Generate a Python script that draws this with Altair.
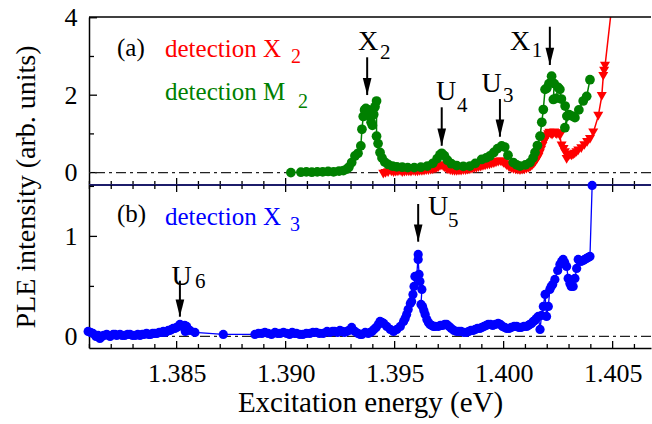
import altair as alt
import pandas as pd

# ---------------- data ----------------
m2_energy = [1.39024, 1.39070, 1.39095, 1.39120, 1.39145, 1.39170, 1.39195, 1.39220, 1.39245, 1.39265,
             1.39280, 1.39290, 1.39303, 1.39318, 1.39332, 1.39345, 1.39350, 1.39356, 1.39362, 1.39368,
             1.39374, 1.39380, 1.39386, 1.39392, 1.39398, 1.39404, 1.39410, 1.39417, 1.39417, 1.39424,
             1.39433, 1.39442, 1.39455, 1.39470, 1.39490, 1.39510, 1.39535, 1.39560, 1.39590, 1.39620,
             1.39650, 1.39675, 1.39695, 1.39708, 1.39716, 1.39728, 1.39742, 1.39760, 1.39785, 1.39815,
             1.39845, 1.39870, 1.39899, 1.39920, 1.39937, 1.39955, 1.39972, 1.39991, 1.40005, 1.40020,
             1.40044, 1.40060, 1.40075, 1.40100, 1.40121, 1.40135, 1.40144, 1.40155, 1.40167, 1.40175,
             1.40182, 1.40190, 1.40198, 1.40208, 1.40220, 1.40232, 1.40228, 1.40240, 1.40250, 1.40258,
             1.40265, 1.40282, 1.40290, 1.40281, 1.40300, 1.40315, 1.40327, 1.40345, 1.40365, 1.40381,
             1.40396]
m2_value = [0.00, 0.01, 0.02, 0.01, 0.02, 0.02, 0.03, 0.02, 0.04, 0.05,
            0.09, 0.14, 0.26, 0.43, 0.50, 0.69, 1.12, 1.45, 1.62, 1.66,
            1.58, 1.62, 1.46, 1.30, 1.22, 1.50, 1.70, 1.85, 0.94, 0.75,
            0.52, 0.38, 0.27, 0.21, 0.17, 0.15, 0.14, 0.13, 0.13, 0.14,
            0.17, 0.24, 0.36, 0.46, 0.50, 0.44, 0.32, 0.23, 0.18, 0.16,
            0.17, 0.24, 0.34, 0.38, 0.43, 0.52, 0.62, 0.69, 0.66, 0.45,
            0.26, 0.20, 0.17, 0.20, 0.26, 0.38, 0.52, 0.70, 0.94, 1.30,
            1.63, 2.15, 2.18, 2.30, 2.49, 2.30, 1.89, 1.92, 2.20, 2.15,
            1.90, 1.72, 1.46, 1.16, 1.50, 1.46, 1.42, 1.62, 1.85, 1.97,
            2.40]

x2_energy = [1.39448, 1.39458, 1.39470, 1.39485, 1.39495, 1.39505, 1.39515, 1.39525, 1.39535, 1.39545,
             1.39555, 1.39565, 1.39575, 1.39585, 1.39595, 1.39605, 1.39615, 1.39625, 1.39635, 1.39645,
             1.39655, 1.39665, 1.39675, 1.39685, 1.39693, 1.39700, 1.39708, 1.39716, 1.39723, 1.39730,
             1.39738, 1.39745, 1.39755, 1.39765, 1.39775, 1.39785, 1.39795, 1.39805, 1.39815, 1.39825,
             1.39835, 1.39845, 1.39855, 1.39865, 1.39875, 1.39885, 1.39895, 1.39905, 1.39915, 1.39925,
             1.39935, 1.39945, 1.39955, 1.39965, 1.39975, 1.39985, 1.39993, 1.40000, 1.40008, 1.40015,
             1.40025, 1.40035, 1.40045, 1.40055, 1.40065, 1.40075, 1.40085, 1.40095, 1.40105, 1.40115,
             1.40123, 1.40130, 1.40138, 1.40145, 1.40152, 1.40160, 1.40166, 1.40172, 1.40178, 1.40185,
             1.40192, 1.40198, 1.40204, 1.40210, 1.40216, 1.40222, 1.40227, 1.40232, 1.40238, 1.40244,
             1.40252, 1.40258, 1.40266, 1.40275, 1.40281, 1.40289, 1.40298, 1.40305, 1.40312, 1.40319,
             1.40326, 1.40334, 1.40342, 1.40356, 1.40370, 1.40383, 1.40396, 1.40411, 1.40434, 1.40450,
             1.40457, 1.40461, 1.40465, 1.40520]
x2_value = [-0.04, -0.02, 0.00, 0.02, 0.00, 0.01, 0.02, 0.03, 0.00, 0.01,
            0.02, 0.02, 0.01, 0.03, 0.02, 0.02, 0.03, 0.03, 0.04, 0.05,
            0.05, 0.06, 0.07, 0.09, 0.11, 0.13, 0.16, 0.18, 0.15, 0.12,
            0.09, 0.07, 0.05, 0.04, 0.03, 0.03, 0.04, 0.04, 0.05, 0.05,
            0.06, 0.07, 0.08, 0.10, 0.11, 0.13, 0.14, 0.16, 0.17, 0.19,
            0.20, 0.22, 0.23, 0.25, 0.27, 0.28, 0.27, 0.24, 0.21, 0.17,
            0.13, 0.10, 0.08, 0.07, 0.06, 0.05, 0.06, 0.07, 0.09, 0.11,
            0.14, 0.17, 0.22, 0.27, 0.33, 0.40, 0.49, 0.58, 0.68, 0.78,
            0.86, 0.93, 0.98, 1.02, 0.99, 0.97, 1.00, 1.03, 1.00, 0.98,
            1.01, 0.94, 0.69, 0.60, 0.52, 0.34, 0.42, 0.45, 0.43, 0.46,
            0.48, 0.52, 0.56, 0.62, 0.70, 0.78, 0.86, 1.03, 1.46, 1.97,
            2.49, 2.62, 2.75, 5.50]

x3_energy = [1.38094, 1.38105, 1.38116, 1.38130, 1.38140, 1.38148, 1.38158, 1.38165, 1.38179, 1.38188,
             1.38195, 1.38209, 1.38218, 1.38225, 1.38240, 1.38250, 1.38262, 1.38275, 1.38286, 1.38298,
             1.38310, 1.38322, 1.38332, 1.38342, 1.38350, 1.38362, 1.38372, 1.38380, 1.38390, 1.38400,
             1.38410, 1.38420, 1.38430, 1.38439, 1.38447, 1.38455, 1.38462, 1.38469, 1.38477, 1.38484,
             1.38492, 1.38500, 1.38508, 1.38515, 1.38522, 1.38529, 1.38537, 1.38546, 1.38540, 1.38561,
             1.38584, 1.38714, 1.38859, 1.38875, 1.38891, 1.38905, 1.38920, 1.38935, 1.38951, 1.38963,
             1.38975, 1.38990, 1.39005, 1.39018, 1.39030, 1.39040, 1.39050, 1.39065, 1.39079, 1.39095,
             1.39111, 1.39125, 1.39140, 1.39155, 1.39172, 1.39190, 1.39203, 1.39215, 1.39225, 1.39238,
             1.39249, 1.39260, 1.39270, 1.39280, 1.39290, 1.39303, 1.39318, 1.39332, 1.39342, 1.39350,
             1.39365, 1.39379, 1.39388, 1.39396, 1.39405, 1.39415, 1.39425, 1.39433, 1.39442, 1.39450,
             1.39464, 1.39480, 1.39495, 1.39510, 1.39526, 1.39541, 1.39548, 1.39555, 1.39562, 1.39572,
             1.39578, 1.39584, 1.39589, 1.39593, 1.39601, 1.39608, 1.39608, 1.39612, 1.39616, 1.39625,
             1.39621, 1.39628, 1.39634, 1.39640, 1.39648, 1.39655, 1.39662, 1.39670, 1.39678, 1.39685,
             1.39700, 1.39710, 1.39720, 1.39730, 1.39739, 1.39750, 1.39760, 1.39772, 1.39784, 1.39795,
             1.39805, 1.39818, 1.39830, 1.39840, 1.39850, 1.39860, 1.39870, 1.39880, 1.39891, 1.39900,
             1.39910, 1.39920, 1.39929, 1.39940, 1.39950, 1.39962, 1.39975, 1.39985, 1.39995, 1.40005,
             1.40014, 1.40025, 1.40035, 1.40048, 1.40060, 1.40070, 1.40080, 1.40093, 1.40106, 1.40113,
             1.40120, 1.40128, 1.40136, 1.40143, 1.40150, 1.40159, 1.40167, 1.40174, 1.40182, 1.40190,
             1.40197, 1.40205, 1.40212, 1.40218, 1.40225, 1.40235, 1.40248, 1.40258, 1.40266, 1.40273,
             1.40280, 1.40289, 1.40296, 1.40304, 1.40310, 1.40319, 1.40327, 1.40335, 1.40342, 1.40348,
             1.40355, 1.40365, 1.40372, 1.40380, 1.40388, 1.40396, 1.40406]
x3_value = [0.05, 0.04, 0.03, 0.00, 0.01, -0.02, 0.00, 0.01, 0.02, 0.01,
            0.00, 0.02, 0.02, 0.01, 0.02, 0.01, 0.01, 0.02, 0.02, 0.01,
            0.01, 0.02, 0.01, 0.02, 0.02, 0.03, 0.02, 0.02, 0.03, 0.03,
            0.03, 0.04, 0.04, 0.05, 0.04, 0.05, 0.06, 0.06, 0.07, 0.08,
            0.08, 0.09, 0.10, 0.12, 0.11, 0.10, 0.11, 0.10, 0.05, 0.06,
            0.04, 0.02, 0.02, 0.03, 0.03, 0.04, 0.03, 0.02, 0.04, 0.03,
            0.03, 0.04, 0.03, 0.02, 0.04, 0.03, 0.03, 0.02, 0.02, 0.03,
            0.03, 0.04, 0.04, 0.03, 0.03, 0.05, 0.04, 0.05, 0.05, 0.04,
            0.06, 0.05, 0.04, 0.05, 0.06, 0.09, 0.05, 0.03, 0.02, 0.02,
            0.04, 0.03, 0.04, 0.05, 0.07, 0.09, 0.12, 0.15, 0.14, 0.13,
            0.10, 0.07, 0.05, 0.07, 0.10, 0.15, 0.18, 0.22, 0.27, 0.33,
            0.35, 0.42, 0.50, 0.60, 0.59, 0.82, 0.77, 0.62, 0.55, 0.47,
            0.32, 0.30, 0.26, 0.22, 0.17, 0.14, 0.12, 0.11, 0.10, 0.10,
            0.10, 0.11, 0.11, 0.12, 0.12, 0.10, 0.08, 0.06, 0.05, 0.05,
            0.05, 0.04, 0.04, 0.05, 0.06, 0.06, 0.07, 0.08, 0.08, 0.09,
            0.10, 0.11, 0.12, 0.12, 0.11, 0.12, 0.13, 0.12, 0.10, 0.09,
            0.08, 0.08, 0.09, 0.10, 0.10, 0.09, 0.09, 0.10, 0.10, 0.11,
            0.12, 0.13, 0.15, 0.16, 0.18, 0.20, 0.07, 0.21, 0.30, 0.42,
            0.20, 0.30, 0.47, 0.50, 0.52, 0.57, 0.66, 0.72, 0.75, 0.77,
            0.74, 0.70, 0.58, 0.53, 0.50, 0.50, 0.58, 0.68, 0.77, 0.76,
            0.75, 0.76, 0.77, 0.78, 0.79, 0.80, 1.51]

# axis ticks
x_major = [1.385, 1.390, 1.395, 1.400, 1.405]
x_minor = [1.381, 1.382, 1.383, 1.384, 1.386, 1.387, 1.388, 1.389, 1.391, 1.392, 1.393, 1.394,
           1.396, 1.397, 1.398, 1.399, 1.401, 1.402, 1.403, 1.404, 1.406]
ya_major = [0, 2, 4]
ya_minor = [1, 3]
yb_major = [0, 1]
yb_minor = [0.5, 1.5]

# peak annotations (arrow position in data units)
ann_a_energy = [1.39374, 1.39716, 1.39983, 1.40212]
ann_a_from = [2.824, 1.532, 1.746, 3.614]
ann_a_to = [2.004, 0.694, 0.927, 2.780]
lab_a_text = ["X", "U", "U", "X"]
lab_a_energy = [1.39332, 1.39690, 1.39899, 1.40029]
lab_a_value = [3.167, 1.875, 2.090, 3.167]
sub_a_text = ["2", "4", "3", "1"]
sub_a_energy = [1.39433, 1.39786, 1.39997, 1.40129]
sub_a_value = [2.935, 1.573, 1.831, 2.994]

ann_b_energy = [1.39608, 1.38515]
ann_b_from = [1.264, 0.497]
ann_b_to = [0.947, 0.197]
lab_b_text = ["U", "U"]
lab_b_energy = [1.39653, 1.38477]
lab_b_value = [1.214, 0.514]
sub_b_text = ["5", "6"]
sub_b_energy = [1.39745, 1.38584]
sub_b_value = [1.097, 0.484]

# ---------------- layout / style ----------------
FONT = "Liberation Serif"
W = 562
HT = 168
HB = 163
XD = [1.38098, 1.38098 + 562 / 21800]
YA = [-0.32, 4.02]
YB = [-0.116, 1.514]
RED, GREEN, BLUE = "#ff0000", "#008000", "#0000ff"
NAVY = "#1c1c6a"

xs = alt.Scale(domain=XD, nice=False, zero=False)
ysa = alt.Scale(domain=YA, nice=False, zero=False)
ysb = alt.Scale(domain=YB, nice=False, zero=False)

x_axis_b = alt.Axis(values=x_major, format=".3f", ticks=False, domain=True, domainColor="black",
                    domainWidth=1.5, grid=False, labelFont=FONT, labelFontSize=26, labelColor="black",
                    labelPadding=12, labelFlush=False, title="Excitation energy (eV)", titleFont=FONT,
                    titleFontSize=29, titleFontWeight="normal", titleColor="black", titlePadding=2)
y_axis_a = alt.Axis(values=ya_major, ticks=False, domain=True, domainColor="black", domainWidth=1.5,
                    grid=False, labelFont=FONT, labelFontSize=26, labelColor="black", labelPadding=12,
                    labelFlush=False, title=None)
y_axis_b = alt.Axis(values=yb_major, ticks=False, domain=True, domainColor="black", domainWidth=1.5,
                    grid=False, labelFont=FONT, labelFontSize=26, labelColor="black", labelPadding=12,
                    labelFlush=False, title=None)


def XE(panel, field="e"):
    return alt.X(f"{field}:Q", scale=xs, axis=None if panel == "a" else x_axis_b)


def YE(panel, field="v"):
    if panel == "a":
        return alt.Y(f"{field}:Q", scale=ysa, axis=y_axis_a)
    return alt.Y(f"{field}:Q", scale=ysb, axis=y_axis_b)


one = pd.DataFrame({"k": [0]})
df_m2 = pd.DataFrame({"e": m2_energy, "v": m2_value, "i": range(len(m2_energy))})
df_x2 = pd.DataFrame({"e": x2_energy, "v": x2_value, "i": range(len(x2_energy))})
df_x3 = pd.DataFrame({"e": x3_energy, "v": x3_value, "i": range(len(x3_energy))})
df_xmaj = pd.DataFrame({"e": x_major})
df_xmin = pd.DataFrame({"e": x_minor})
df_zero = pd.DataFrame({"v": [0.0]})

ARROW = "M-0.5,-1L0.5,-1L0,1Z"


def arrows(panel, energy, v_from, v_to):
    d = pd.DataFrame({"e": energy, "v": v_from, "v2": v_to})
    shaft = alt.Chart(d).mark_rule(color="black", strokeWidth=2, yOffset=-6).encode(
        x=XE(panel), y=YE(panel), y2="v2:Q")
    head = alt.Chart(d).mark_point(shape=ARROW, size=300, filled=True, color="black", opacity=1,
                                   strokeWidth=0, yOffset=-8.5).encode(x=XE(panel), y=YE(panel, "v2"))
    return [shaft, head]


def labels(panel, text, energy, value, size):
    d = pd.DataFrame({"e": energy, "v": value, "t": text})
    return alt.Chart(d).mark_text(align="left", baseline="alphabetic", font=FONT, fontSize=size,
                                  color="black").encode(x=XE(panel), y=YE(panel), text="t:N")


def ptext(txt, x, y, color, size, **kw):
    return alt.Chart(one).mark_text(text=txt, align="left", baseline="alphabetic", font=FONT,
                                    fontSize=size, color=color, **kw).encode(x=alt.value(x), y=alt.value(y))


def xticks(panel, H, at_top, at_bottom):
    out = []
    for df_t, ln in ((df_xmaj, 7), (df_xmin, 4)):
        if at_top:
            out.append(alt.Chart(df_t).mark_rule(color="black", strokeWidth=1.3).encode(
                x=XE(panel), y=alt.value(0), y2=alt.value(ln)))
        if at_bottom:
            out.append(alt.Chart(df_t).mark_rule(color="black", strokeWidth=1.3).encode(
                x=XE(panel), y=alt.value(H), y2=alt.value(H - ln)))
    return out


def yticks(panel, major, minor):
    out = []
    for vals, ln in ((major, 8), (minor, 5)):
        out.append(alt.Chart(pd.DataFrame({"v": vals})).mark_rule(color="black", strokeWidth=1.3).encode(
            y=YE(panel), x=alt.value(0), x2=alt.value(ln)))
    return out


def zero_line(panel):
    return alt.Chart(df_zero).mark_rule(color="#222222", strokeWidth=1.3, strokeDash=[10, 4, 3, 4]).encode(
        y=YE(panel))


# ---------------- panel (a) ----------------
layers_a = []
layers_a += xticks("a", HT, False, True)
layers_a += yticks("a", ya_major, ya_minor)
layers_a.append(zero_line("a"))
layers_a.append(alt.Chart(df_x2).mark_line(color=RED, strokeWidth=1.5, clip=True).encode(
    x=XE("a"), y=YE("a"), order="i:Q"))
layers_a.append(alt.Chart(df_x2).mark_point(shape="triangle-down", size=100, filled=True, color=RED,
                                            opacity=1, clip=True).encode(x=XE("a"), y=YE("a")))
layers_a.append(alt.Chart(df_m2).mark_line(color=GREEN, strokeWidth=1.5).encode(
    x=XE("a"), y=YE("a"), order="i:Q"))
layers_a.append(alt.Chart(df_m2).mark_point(shape="circle", size=95, filled=True, color=GREEN,
                                            opacity=1).encode(x=XE("a"), y=YE("a")))
layers_a += arrows("a", ann_a_energy, ann_a_from, ann_a_to)
layers_a.append(labels("a", lab_a_text, lab_a_energy, lab_a_value, 28))
layers_a.append(labels("a", sub_a_text, sub_a_energy, sub_a_value, 21))
# frame lines
layers_a.append(alt.Chart(one).mark_rule(color="black", strokeWidth=1.5).encode(
    x=alt.value(0), x2=alt.value(W), y=alt.value(0)))
layers_a.append(alt.Chart(one).mark_rule(color=NAVY, strokeWidth=1.8).encode(
    x=alt.value(0), x2=alt.value(W), y=alt.value(HT)))
# legend texts
layers_a.append(ptext("(a)", 28, 39, "black", 25))
layers_a.append(ptext("detection X", 76, 40, RED, 25))
layers_a.append(ptext("2", 202, 46, RED, 20))
layers_a.append(ptext("detection M", 76, 83, GREEN, 25))
layers_a.append(ptext("2", 209, 91, GREEN, 20))
# y title
layers_a.append(alt.Chart(one).mark_text(text="PLE intensity (arb. units)", angle=270, align="center",
                                         baseline="alphabetic", font=FONT, fontSize=28, color="black")
                .encode(x=alt.value(-54), y=alt.value(170)))
# invisible bounds marker (top-left of canvas)
layers_a.append(alt.Chart(one).mark_rule(opacity=0, strokeOpacity=0).encode(
    x=alt.value(-89), x2=alt.value(0), y=alt.value(-17), y2=alt.value(0)))

panel_a = alt.layer(*layers_a).properties(width=W, height=HT)

# ---------------- panel (b) ----------------
layers_b = []
layers_b += xticks("b", HB, True, True)
layers_b += yticks("b", yb_major, yb_minor)
layers_b.append(zero_line("b"))
layers_b.append(alt.Chart(df_x3).mark_line(color=BLUE, strokeWidth=1.3).encode(
    x=XE("b"), y=YE("b"), order="i:Q"))
layers_b.append(alt.Chart(df_x3).mark_point(shape="circle", size=85, filled=True, color=BLUE,
                                            opacity=1).encode(x=XE("b"), y=YE("b")))
layers_b += arrows("b", ann_b_energy, ann_b_from, ann_b_to)
layers_b.append(labels("b", lab_b_text, lab_b_energy, lab_b_value, 28))
layers_b.append(labels("b", sub_b_text, sub_b_energy, sub_b_value, 21))
layers_b.append(ptext("(b)", 28, 37, "black", 25))
layers_b.append(ptext("detection X", 76, 40, BLUE, 25))
layers_b.append(ptext("3", 201, 46, BLUE, 20))
# invisible bounds marker (bottom-right of canvas)
layers_b.append(alt.Chart(one).mark_rule(opacity=0, strokeOpacity=0).encode(
    x=alt.value(W + 1), x2=alt.value(W + 1), y=alt.value(0), y2=alt.value(HB + 76)))

panel_b = alt.layer(*layers_b).properties(width=W, height=HB)

chart = alt.vconcat(panel_a, panel_b, spacing=0, bounds="flush").properties(
    padding=0, background="white"
).configure_view(stroke=None)

chart.save("out.html", embed_options={"renderer": "svg", "actions": False})
